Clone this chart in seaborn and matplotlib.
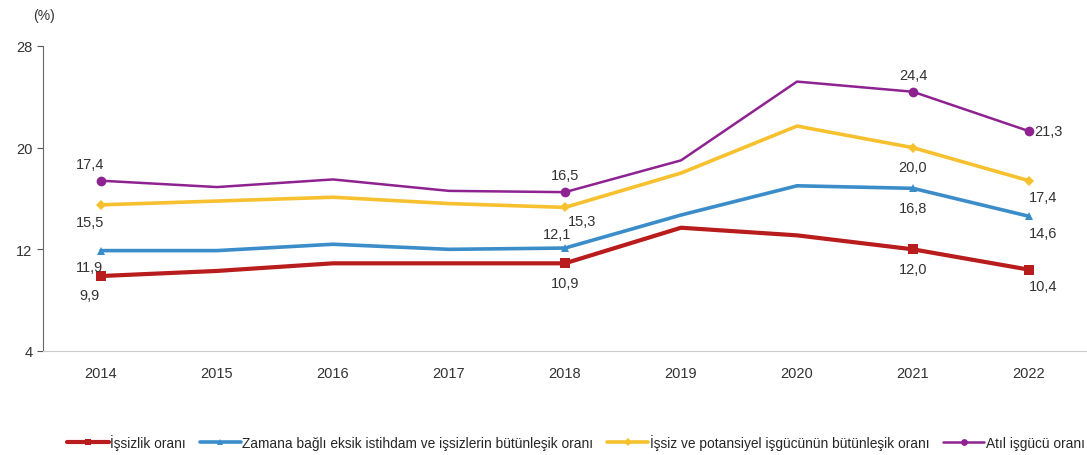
import pandas as pd
import seaborn as sns
from matplotlib import pyplot as plt

# data
years = ['2014', '2015', '2016', '2017', '2018', '2019', '2020', '2021', '2022']
issizlik = [9.9, 10.3, 10.9, 10.9, 10.9, 13.7, 13.1, 12.0, 10.4]
zamana_bagli = [11.9, 11.9, 12.4, 12.0, 12.1, 14.7, 17.0, 16.8, 14.6]
potansiyel = [15.5, 15.8, 16.1, 15.6, 15.3, 18.0, 21.7, 20.0, 17.4]
atil = [17.4, 16.9, 17.5, 16.6, 16.5, 19.0, 25.2, 24.4, 21.3]
labeled_idx = [0, 4, 7, 8]

names = ['İşsizlik oranı',
         'Zamana bağlı eksik istihdam ve işsizlerin bütünleşik oranı',
         'İşsiz ve potansiyel işgücünün bütünleşik oranı',
         'Atıl işgücü oranı']
series = [issizlik, zamana_bagli, potansiyel, atil]

df = pd.DataFrame({'Yil': years * 4,
                   'Oran': issizlik + zamana_bagli + potansiyel + atil,
                   'Seri': sum([[n] * len(years) for n in names], [])})

colors = ['#B81C1C', '#3B8DC9', '#F6C02E', '#8E2291']
markers = ['s', '^', 'D', 'o']
msizes = [6.5, 6, 5.5, 7]
lwidths = [3, 2.6, 2.6, 1.8]
# label offsets (points) for indices 0, 4, 7, 8
offsets = [
    [(-8, -14), (0, -14), (0, -14), (10, -12)],
    [(-8, -12), (-6, 10), (0, -14), (10, -12)],
    [(-8, -12), (12, -10), (0, -14), (10, -12)],
    [(-8, 12), (0, 12), (0, 12), (14, 0)],
]

sns.set_style('white')
plt.rcParams['font.family'] = ['Liberation Sans', 'DejaVu Sans']

fig = plt.figure(figsize=(10.87, 4.56), dpi=100)
ax = fig.add_axes([43 / 1087, 1 - 352 / 456, 1 - 43 / 1087, (352 - 47) / 456])

for i, n in enumerate(names):
    sub = df[df['Seri'] == n].reset_index(drop=True)
    sns.lineplot(data=sub, x='Yil', y='Oran', ax=ax, color=colors[i],
                 marker=markers[i], markersize=msizes[i], markevery=labeled_idx,
                 markeredgewidth=0, linewidth=lwidths[i], label=n, sort=False)
    for k, j in enumerate(labeled_idx):
        ax.annotate(f'{series[i][j]:.1f}'.replace('.', ','), (j, series[i][j]),
                    xytext=offsets[i][k], textcoords='offset points',
                    ha='center', va='center', fontsize=10.5, color='#333333')

ax.set_xlim(-0.5, 8.5)
ax.set_ylim(4, 28)
ax.set_yticks([4, 12, 20, 28])
ax.set_xlabel('')
ax.set_ylabel('')
ax.tick_params(axis='y', left=True, length=4, color='#555555', labelsize=10.5, labelcolor='#333333')
ax.tick_params(axis='x', bottom=False, labelsize=10.5, labelcolor='#333333', pad=7)
for s in ['top', 'right']:
    ax.spines[s].set_visible(False)
ax.spines['left'].set_color('#666666')
ax.spines['bottom'].set_color('#cccccc')
fig.text(33 / 1087, 1 - 16 / 456, '(%)', fontsize=10, color='#333333',
         ha='left', va='center')

handles, labels = ax.get_legend_handles_labels()
ax.get_legend().remove()
fig.legend(handles, labels, loc='center', bbox_to_anchor=(0.53, 0.028), ncol=4,
           frameon=False, fontsize=9.9, handlelength=3.0, columnspacing=1.0,
           handletextpad=0.1, markerscale=0.7)

plt.savefig('out.png', dpi=100)
plt.close()
